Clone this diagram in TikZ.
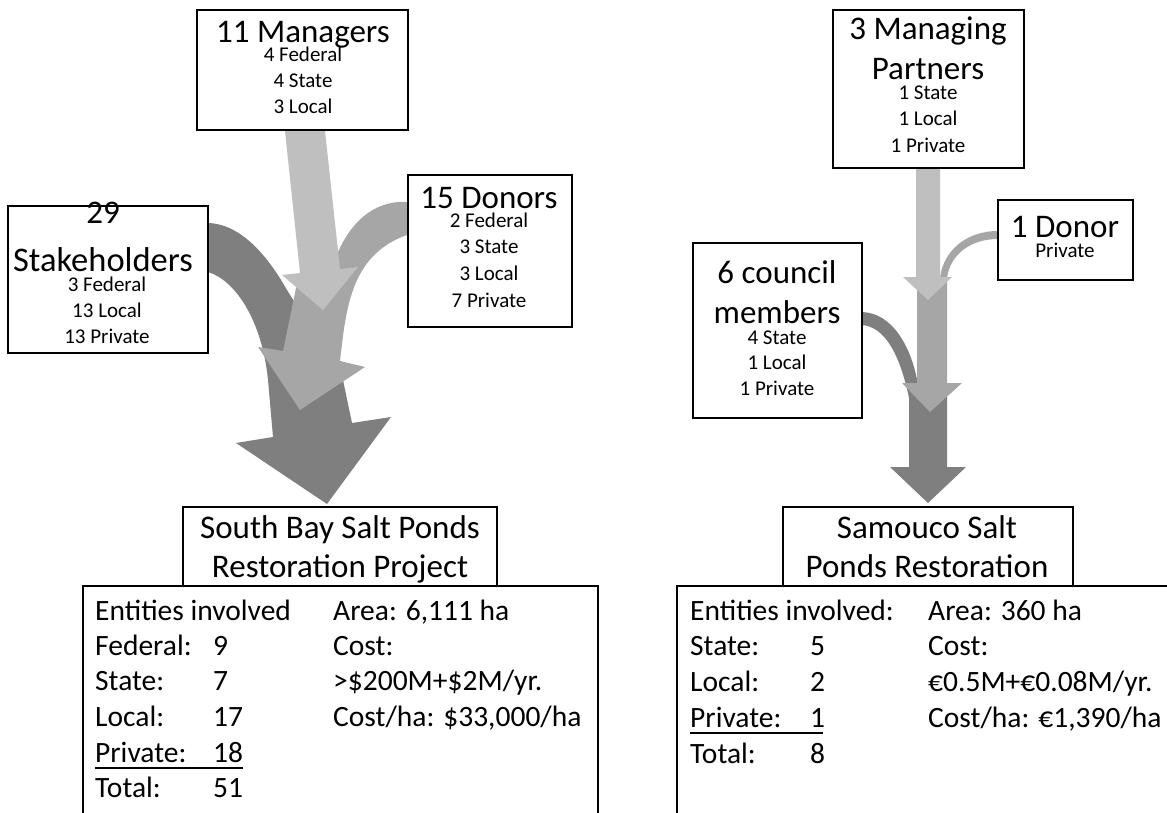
\documentclass[tikz,border=0pt]{standalone}
\usepackage{fontspec}
\setmainfont{Carlito}
\definecolor{lgray}{HTML}{BFBFBF}
\definecolor{mgray}{HTML}{A6A6A6}
\definecolor{dgray}{HTML}{7F7F7F}
\begin{document}
\begin{tikzpicture}[x=1pt,y=-1pt,
  box/.style={draw=black, line width=2.6pt, fill=white, inner sep=0pt},
  big/.style={anchor=base, inner sep=0pt, font=\fontsize{33}{33}\selectfont},
  bigger/.style={anchor=base, inner sep=0pt, font=\fontsize{34.5}{34.5}\selectfont},
  small/.style={anchor=base, inner sep=0pt, font=\fontsize{21}{21}\selectfont},
  ttl/.style={anchor=base, inner sep=0pt, font=\fontsize{33}{33}\selectfont},
  tab/.style={anchor=base west, inner sep=0pt, font=\fontsize{29.5}{29.5}\selectfont},
  uline/.style={line width=1.4pt}]
\useasboundingbox (0,0) rectangle (1167,813);
\clip (0,0) rectangle (1167,813);

% ---------- left arrows ----------
\fill[dgray] (208,223) .. controls (243,224) and (270,260) .. (287,290)
  -- (343,380) -- (352,423) -- (391,417) -- (327,504) -- (236,443) -- (273,437)
  -- (268,380) .. controls (262,320) and (235,280) .. (208,272) -- cycle;
\fill[mgray] (407,202) .. controls (372,200) and (350,225) .. (338,252)
  -- (315,270) -- (296,288) -- (283,351) -- (258,347) -- (300,410) -- (365,367)
  -- (340,361) .. controls (346,310) and (350,255) .. (407,235) -- cycle;
\fill[lgray] (285,131) -- (325,131) -- (340,269) -- (358,267) -- (323,310)
  -- (282,275) -- (300,273) -- cycle;

% ---------- right arrows ----------
\fill[dgray] (862,312) .. controls (893,313) and (912,348) .. (918,385)
  -- (947,385) -- (947,467) -- (966,467) -- (928,503) -- (890,467) -- (909,467)
  -- (909,398) .. controls (900,355) and (885,326) .. (861,325) -- cycle;
\fill[mgray] (998,231) .. controls (965,231) and (943,252) .. (940,278)
  -- (917,278) -- (917,383) -- (902,383) -- (930,412) -- (962,383) -- (947,383)
  -- (947,278) .. controls (950,255) and (970,239) .. (998,239) -- cycle;
\fill[lgray] (916,167) -- (940,167) -- (940,277) -- (952,277) -- (928,300)
  -- (903,277) -- (916,277) -- cycle;

% ---------- boxes ----------
\node[box, minimum width=211pt, minimum height=120pt] (mgr) at (302.5,70) {};
\node[box, minimum width=200pt, minimum height=147pt] (stk) at (108,279.5) {};
\node[box, minimum width=164pt, minimum height=152pt] (don) at (490,251) {};
\node[box, minimum width=191pt, minimum height=158pt] (mp) at (928.5,89) {};
\node[box, minimum width=135pt, minimum height=80pt] (donr) at (1065.5,240) {};
\node[box, minimum width=169pt, minimum height=175pt] (cnc) at (777.5,330.5) {};
\node[box, minimum width=515pt, minimum height=254pt] (sbi) at (340.5,713) {};
\node[box, minimum width=513pt, minimum height=254pt] (smi) at (933.5,713) {};
\node[box, minimum width=314pt, minimum height=79pt] (sbt) at (340,546.5) {};
\node[box, minimum width=290pt, minimum height=79pt] (smt) at (928,546.5) {};

% ---------- box texts ----------
\node[big] (t1) at (303,43) {11 Managers};
\node[small] (t2) at (303,62) {4 Federal};
\node[small] (t3) at (303,88) {4 State};
\node[small] (t4) at (303,114) {3 Local};

\node[big] (s1) at (103,223) {29};
\node[bigger] (s2) at (103,271) {Stakeholders};
\node[small] (s3) at (107,291) {3 Federal};
\node[small] (s4) at (107,317) {13 Local};
\node[small] (s5) at (107,343) {13 Private};

\node[big] (d1) at (489,208) {15 Donors};
\node[small] (d2) at (489,228) {2 Federal};
\node[small] (d3) at (489,254) {3 State};
\node[small] (d4) at (489,280) {3 Local};
\node[small] (d5) at (489,307) {7 Private};

\node[big] (p1) at (928,40) {3 Managing};
\node[big] (p2) at (928,80) {Partners};
\node[small] (p3) at (928,100) {1 State};
\node[small] (p4) at (928,126) {1 Local};
\node[small] (p5) at (928,153) {1 Private};

\node[big] (r1) at (1065,237) {1 Donor};
\node[small] (r2) at (1065,257) {Private};

\node[big] (c1) at (777,283) {6 council};
\node[big] (c2) at (777,323) {members};
\node[small] (c3) at (777,344) {4 State};
\node[small] (c4) at (777,369) {1 Local};
\node[small] (c5) at (777,395) {1 Private};

\node[ttl] (sbt1) at (340,538) {South Bay Salt Ponds};
\node[ttl] (sbt2) at (340,577) {Restoration Project};
\node[ttl] (smt1) at (927,538) {Samouco Salt};
\node[ttl] (smt2) at (927,577) {Ponds Restoration};

% ---------- left table ----------
\node[tab] (la1) at (95,620) {Entities involved};
\node[tab] (la2) at (95,655) {Federal:};
\node[tab] (la3) at (95,690) {State:};
\node[tab] (la4) at (95,726) {Local:};
\node[tab] (la5) at (95,762) {Private:};
\node[tab] (la6) at (95,797) {Total:};
\node[tab] (lv2) at (213,655) {9};
\node[tab] (lv3) at (213,690) {7};
\node[tab] (lv4) at (213,726) {17};
\node[tab] (lv5) at (213,762) {18};
\node[tab] (lv6) at (213,797) {51};
\node[tab] (lr1) at (333,620) {Area: 6,111 ha};
\node[tab] (lr2) at (333,655) {Cost:};
\node[tab] (lr3) at (333,690) {>\$200M+\$2M/yr.};
\node[tab] (lr4) at (333,726) {Cost/ha: \$33,000/ha};
\draw[uline] (95,768) -- (243,768);

% ---------- right table ----------
\node[tab] (ra1) at (690,620) {Entities involved:};
\node[tab] (ra2) at (690,655) {State:};
\node[tab] (ra3) at (690,691) {Local:};
\node[tab] (ra4) at (690,727) {Private:};
\node[tab] (ra5) at (690,763) {Total:};
\node[tab] (rv2) at (810,655) {5};
\node[tab] (rv3) at (810,691) {2};
\node[tab] (rv4) at (810,727) {1};
\node[tab] (rv5) at (810,763) {8};
\node[tab] (rr1) at (928,620) {Area: 360 ha};
\node[tab] (rr2) at (928,655) {Cost:};
\node[tab] (rr3) at (928,691) {€0.5M+€0.08M/yr.};
\node[tab] (rr4) at (928,727) {Cost/ha: €1,390/ha};
\draw[uline] (690,733) -- (823,733);
\end{tikzpicture}
\end{document}
